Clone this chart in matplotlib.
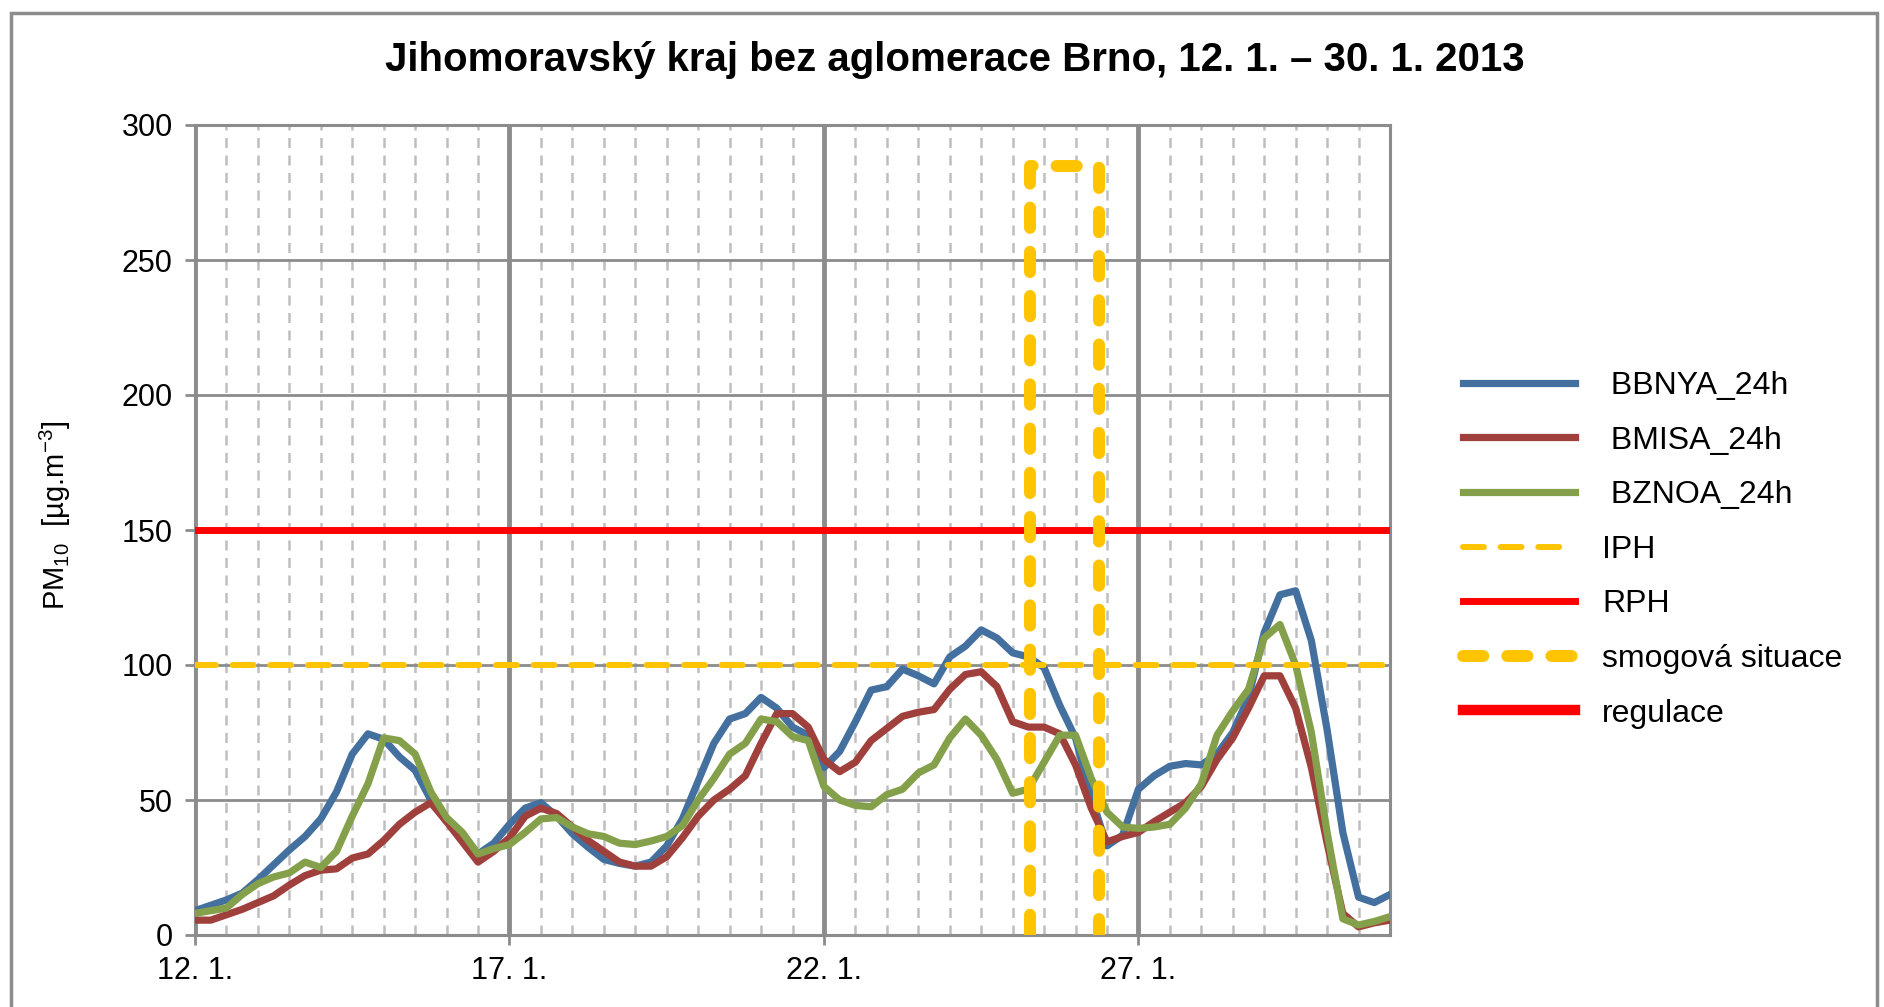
import numpy as np
import matplotlib
matplotlib.use("Agg")
from matplotlib import pyplot as plt
from matplotlib.patches import Rectangle

plt.rcParams['font.family'] = ['Liberation Sans', 'DejaVu Sans']
plt.rcParams['mathtext.fontset'] = 'custom'
plt.rcParams['mathtext.rm'] = 'Liberation Sans'
plt.rcParams['mathtext.it'] = 'Liberation Sans:italic'

# time axis: day of January, every 6 hours from 12. 1. 0:00 to 31. 1. 0:00
days = np.arange(12, 31.01, 0.25)

bbnya = [9, 11, 13, 15.5, 20.5, 26, 31.5, 36.5, 43, 53, 67, 74.5, 72.5, 66, 61, 50,
         42, 37, 30, 34, 41, 47, 49, 44, 37.5, 32.5, 28, 26.5, 25.5, 27, 33, 43,
         57, 71, 80, 82, 88, 84, 77, 74, 62, 68, 79, 90.7, 92, 98.5, 96, 93,
         103, 107, 113, 110, 104.5, 103, 99, 85, 73, 51, 33, 37, 54, 59,
         62.5, 63.5, 63, 67, 75, 88, 112, 126, 127.5, 109, 76, 38, 14, 12, 15]
bmisa = [5.5, 5.5, 7.5, 9.5, 12, 14.5, 18.5, 22, 24, 24.5, 28.5, 30, 35, 41, 45.5, 49,
         42, 34.5, 27, 31, 36, 44, 47, 45, 40, 35, 31, 27, 25.5, 25.5, 29, 36,
         44, 50, 54, 59, 71, 82, 82, 77, 65, 60.5, 64, 72, 76.5, 81, 82.5, 83.5,
         91, 96.5, 97.5, 92, 79, 77, 77, 74.5, 63, 47, 34.5, 36.5, 38, 42,
         45.5, 49, 55, 65, 73, 84, 96, 96, 84, 62, 34, 8, 3, 4.5, 5.5]
bznoa = [8, 9, 10, 15, 19, 21.5, 23, 27, 25, 31, 44, 56, 73, 72, 67, 53,
         43.5, 38, 30, 32, 33.5, 38, 43, 43.5, 40, 37.5, 36.5, 34, 33.5, 34.8, 36.5, 40.5,
         50, 58, 67, 71, 80, 79, 73.5, 72, 55, 50, 48, 47.5, 52, 54, 60, 63,
         73, 80, 74, 65, 52.5, 54, 64, 74, 74, 58, 45.5, 40, 39.5, 40,
         41, 47, 56, 74, 83, 91, 110, 115, 100, 75, 38, 6, 3.7, 5, 6.8]

iph_level = 100
rph_level = 150
# smog situation announced 25. 1. ~7:00, ended 26. 1. ~9:00
smog_days = [25.28, 25.28, 26.37, 26.37]
smog_level = [0, 285, 285, 0]
regulace_days = []
regulace_level = []

tick_days = [12, 17, 22, 27]
tick_labels = ["12. 1.", "17. 1.", "22. 1.", "27. 1."]

fig = plt.figure(figsize=(18.84, 10.07), dpi=100)
ax = fig.add_axes([195 / 1884, 72 / 1007, 1195 / 1884, 810 / 1007])

ax.plot(days, bbnya, color='#44709F', lw=5.2, label=' BBNYA_24h', zorder=3)
ax.plot(days, bmisa, color='#A0403C', lw=5.2, label=' BMISA_24h', zorder=3)
ax.plot(days, bznoa, color='#85A04A', lw=5.2, label=' BZNOA_24h', zorder=3)
ax.axhline(iph_level, color='#FFC400', lw=4.3, dashes=(3.5, 2.8),
           dash_capstyle='round', label='IPH', zorder=4)
ax.axhline(rph_level, color='#FF0000', lw=5, label='RPH', zorder=4)
ax.plot(smog_days, smog_level, color='#FFC400', lw=8.6, dashes=(1.7, 2.0),
        dash_capstyle='round', label='smogová situace', zorder=5)
ax.plot(regulace_days, regulace_level, color='#FF0000', lw=7.5, label='regulace')

ax.set_xlim(12, 31)
ax.set_ylim(0, 300)
ax.set_yticks(range(0, 301, 50))
ax.set_xticks(tick_days)
ax.set_xticklabels(tick_labels)
ax.set_xticks([d for d in np.arange(12.5, 31, 0.5) if d not in tick_days], minor=True)

ax.grid(which='major', axis='y', color='#8C8C8C', lw=2, zorder=1)
ax.grid(which='major', axis='x', color='#8C8C8C', lw=3.5, zorder=1)
ax.grid(which='minor', axis='x', color='#BEBEBE', lw=1.8, dashes=(4, 3), zorder=1)
ax.set_axisbelow(True)

for s in ax.spines.values():
    s.set_color('#8C8C8C')
    s.set_linewidth(2.2)

ax.tick_params(axis='both', which='major', color='#8C8C8C', width=2, length=7,
               labelsize=22, direction='out')
ax.tick_params(axis='y', pad=9)
ax.tick_params(axis='x', pad=8)
ax.tick_params(which='minor', length=0)

ax.set_ylabel('PM$_{10}$  [µg.m$^{-3}$]', fontsize=21)
ax.yaxis.set_label_coords(-0.102, 0.518)

fig.text(0.507, 0.94, 'Jihomoravský kraj bez aglomerace Brno, 12. 1. – 30. 1. 2013',
         ha='center', va='center', fontsize=29, fontweight='bold')

ax.legend(loc='upper left', bbox_to_anchor=(1463 / 1884, 1 - 371 / 1007),
          bbox_transform=fig.transFigure, frameon=False, fontsize=23,
          handlelength=3.5, handletextpad=0.85, labelspacing=0.77, borderpad=0,
          borderaxespad=0)

fig.add_artist(Rectangle((11 / 1884, -0.1), 1866 / 1884, 1.1 - 13 / 1007,
                         transform=fig.transFigure, fill=False,
                         edgecolor='#8C8C8C', lw=2.5))

plt.savefig("out.png", dpi=100)
